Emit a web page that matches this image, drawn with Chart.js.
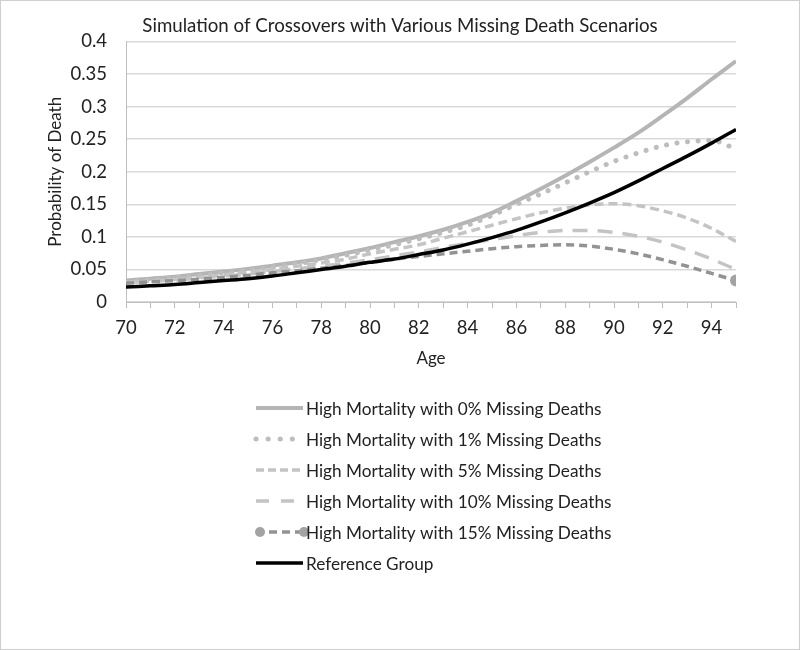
<!DOCTYPE html>
<html>
<head>
<meta charset="utf-8">
<title>Simulation of Crossovers</title>
<script src="https://cdn.jsdelivr.net/npm/chart.js@4.4.1/dist/chart.umd.min.js"></script>
<style>
  html, body { margin: 0; padding: 0; background: #fff; }
  #wrap { width: 800px; height: 650px; }
</style>
</head>
<body>
<div id="wrap"><canvas id="grafico" width="800" height="650"></canvas></div>
<script>
// edades (eje x)
const ages = [70, 71, 72, 73, 74, 75, 76, 77, 78, 79, 80, 81, 82, 83, 84, 85, 86, 87, 88, 89, 90, 91, 92, 93, 94, 95];

// probabilidades
const missing0 = [0.033, 0.036, 0.039, 0.043, 0.047, 0.051, 0.056, 0.061, 0.067, 0.075, 0.083, 0.092, 0.101, 0.111, 0.123, 0.137, 0.155, 0.174, 0.194, 0.215, 0.237, 0.260, 0.286, 0.313, 0.342, 0.370];
const missing1 = [0.031, 0.034, 0.037, 0.041, 0.045, 0.049, 0.054, 0.059, 0.065, 0.072, 0.080, 0.088, 0.097, 0.107, 0.118, 0.133, 0.150, 0.166, 0.183, 0.200, 0.216, 0.229, 0.240, 0.246, 0.248, 0.235];
const missing5 = [0.030, 0.032, 0.035, 0.038, 0.042, 0.046, 0.050, 0.055, 0.060, 0.066, 0.074, 0.081, 0.088, 0.098, 0.108, 0.118, 0.128, 0.137, 0.144, 0.149, 0.151, 0.148, 0.140, 0.129, 0.113, 0.093];
const missing10 = [0.030, 0.032, 0.034, 0.037, 0.040, 0.043, 0.047, 0.051, 0.055, 0.060, 0.065, 0.071, 0.077, 0.084, 0.090, 0.096, 0.102, 0.107, 0.110, 0.110, 0.107, 0.101, 0.092, 0.080, 0.066, 0.050];
const missing15 = [0.029, 0.031, 0.033, 0.035, 0.038, 0.041, 0.045, 0.048, 0.052, 0.056, 0.061, 0.066, 0.070, 0.074, 0.078, 0.082, 0.085, 0.087, 0.088, 0.086, 0.081, 0.074, 0.065, 0.055, 0.044, 0.033];
const referencia = [0.023, 0.025, 0.027, 0.030, 0.033, 0.036, 0.040, 0.045, 0.050, 0.055, 0.061, 0.066, 0.073, 0.080, 0.089, 0.099, 0.110, 0.123, 0.137, 0.152, 0.168, 0.186, 0.205, 0.224, 0.244, 0.265];

const yTicks = [0, 0.05, 0.1, 0.15, 0.2, 0.25, 0.3, 0.35, 0.4];

const fuente = "Lato, 'Open Sans', sans-serif";

// convierte una serie en puntos {x, y}
function puntos(serie) {
  return ages.map((a, i) => ({ x: a, y: serie[i] }));
}

// fondo blanco y borde gris
const fondo = {
  id: 'fondo',
  afterLayout(chart) {
    // el titulo de Excel va centrado en todo el ancho
    const t = chart.titleBlock;
    if (t) { t.left = 0; t.right = chart.width; t.width = chart.width; }
  },
  beforeDraw(chart) {
    const ctx = chart.ctx;
    ctx.save();
    ctx.fillStyle = '#fff';
    ctx.fillRect(0, 0, chart.width, chart.height);
    ctx.strokeStyle = '#cfcfcf';
    ctx.lineWidth = 1;
    ctx.strokeRect(0.5, 0.5, chart.width - 1, chart.height - 1);
    ctx.restore();
  }
};

// leyenda vertical debajo del grafico (estilo Excel)
const leyenda = {
  id: 'leyenda',
  afterDraw(chart) {
    const ctx = chart.ctx;
    const x0 = 256, x1 = 303, tx = 306, y0 = 408, dy = 31;
    chart.data.datasets.forEach((ds, i) => {
      const y = y0 + i * dy;
      ctx.save();
      ctx.strokeStyle = ds.borderColor;
      ctx.lineWidth = ds.borderWidth;
      ctx.lineCap = ds.borderCapStyle || 'butt';
      ctx.setLineDash(ds.legendDash || ds.borderDash || []);
      ctx.beginPath();
      ctx.moveTo(x0, y);
      ctx.lineTo(x1, y);
      ctx.stroke();
      if (ds.legendMarker) {
        ctx.setLineDash([]);
        ctx.fillStyle = ds.pointBackgroundColor;
        [x0 + 4, x1 + 1].forEach(px => {
          ctx.beginPath();
          ctx.arc(px, y, 5, 0, Math.PI * 2);
          ctx.fill();
        });
      }
      ctx.fillStyle = '#222';
      ctx.font = '17.2px ' + fuente;
      ctx.textBaseline = 'middle';
      ctx.fillText(ds.label, tx, y + 1);
      ctx.restore();
    });
  }
};

const ultimo = ages.length - 1;

const datasets = [
  {
    label: 'High Mortality with 0% Missing Deaths',
    data: puntos(missing0),
    borderColor: '#b5b5b5',
    borderWidth: 4,
    order: 5
  },
  {
    label: 'High Mortality with 1% Missing Deaths',
    data: puntos(missing1),
    borderColor: '#bdbdbd',
    borderWidth: 5,
    borderDash: [0.1, 10.5],
    borderCapStyle: 'round',
    legendDash: [0.1, 12],
    order: 4
  },
  {
    label: 'High Mortality with 5% Missing Deaths',
    data: puntos(missing5),
    borderColor: '#c4c4c4',
    borderWidth: 3.5,
    borderDash: [9, 5],
    legendDash: [8, 4],
    order: 3
  },
  {
    label: 'High Mortality with 10% Missing Deaths',
    data: puntos(missing10),
    borderColor: '#c4c4c4',
    borderWidth: 3.5,
    borderDash: [15, 10],
    legendDash: [13, 12],
    order: 2
  },
  {
    label: 'High Mortality with 15% Missing Deaths',
    data: puntos(missing15),
    borderColor: '#939393',
    borderWidth: 3.5,
    borderDash: [8, 5],
    pointRadius: ctx => ctx.dataIndex === ultimo ? 6 : 0,
    pointBackgroundColor: '#a3a3a3',
    pointBorderWidth: 0,
    legendMarker: true,
    order: 1
  },
  {
    label: 'Reference Group',
    data: puntos(referencia),
    borderColor: '#000',
    borderWidth: 3.5,
    order: 0
  }
];

window.onload = () => {
  const ctx = document.getElementById('grafico').getContext('2d');
  new Chart(ctx, {
    type: 'line',
    data: { datasets },
    plugins: [fondo, leyenda],
    options: {
      responsive: false,
      animation: false,
      cubicInterpolationMode: 'monotone',
      elements: {
        point: { radius: 0 },
        line: { fill: false, tension: 0.4 }
      },
      layout: { padding: { top: 0, left: 30, right: 64, bottom: 277 } },
      plugins: {
        legend: { display: false },
        tooltip: { enabled: false },
        title: {
          display: true,
          text: 'Simulation of Crossovers with Various Missing Death Scenarios',
          color: '#222',
          font: { family: fuente, size: 18.7, weight: 'normal' },
          padding: { top: 15, bottom: 4 }
        }
      },
      scales: {
        x: {
          type: 'linear',
          min: 70,
          max: 95,
          ticks: {
            stepSize: 1,
            autoSkip: false,
            maxRotation: 0,
            color: '#222',
            font: { family: fuente, size: 18.5, lineHeight: 1 },
            padding: 11,
            callback: v => (v % 2 === 0 ? String(v) : '')
          },
          grid: { drawOnChartArea: false, drawTicks: true, tickLength: 6, color: '#bfbfbf' },
          border: { display: true, color: '#bfbfbf' },
          title: {
            display: true,
            text: 'Age',
            color: '#222',
            font: { family: fuente, size: 17 },
            padding: { top: 0 }
          }
        },
        y: {
          min: 0,
          max: 0.4,
          afterBuildTicks: axis => { axis.ticks = yTicks.map(v => ({ value: v })); },
          afterFit: axis => { axis.width = 96; },
          ticks: {
            color: '#222',
            font: { family: fuente, size: 18.5 },
            padding: 19,
            callback: v => String(Number(v.toFixed(2)))
          },
          grid: { color: '#d9d9d9', drawTicks: false, lineWidth: 1.5 },
          border: { display: true, color: '#bfbfbf' },
          title: {
            display: true,
            text: 'Probability of Death',
            color: '#222',
            font: { family: fuente, size: 17 },
            padding: { top: 15, bottom: 5 }
          }
        }
      }
    }
  });
};
</script>
</body>
</html>
